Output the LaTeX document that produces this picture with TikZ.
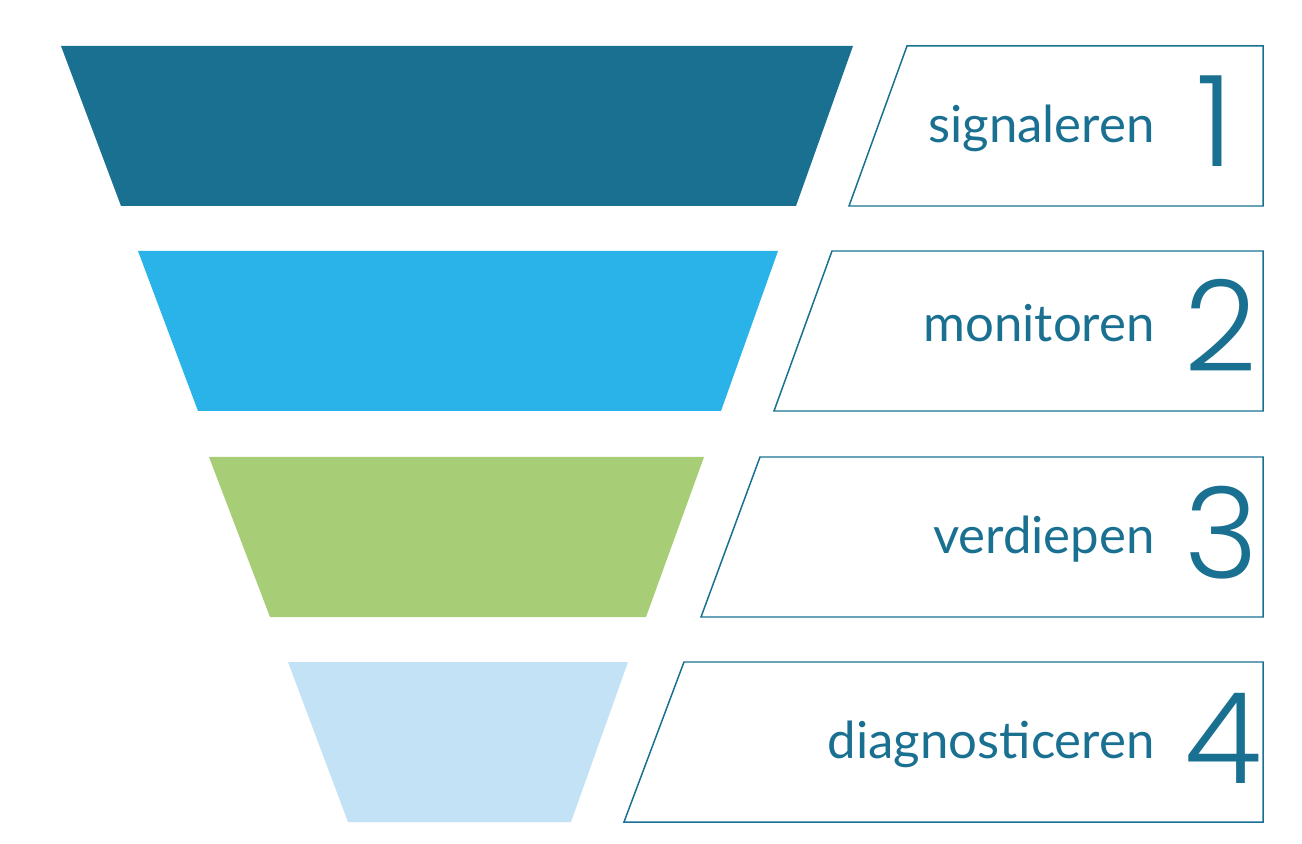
\documentclass[tikz,border=0pt]{standalone}
\usepackage{fontspec}
\setmainfont{Lato}
\newfontfamily\numfont{Poppins Light}
\definecolor{teal1}{RGB}{26,112,144}
\definecolor{sky1}{RGB}{41,179,232}
\definecolor{green1}{RGB}{167,205,118}
\definecolor{pale1}{RGB}{195,226,246}
\tikzset{frame/.style={draw=teal1,line width=0.85pt,line join=miter},
lbl/.style={anchor=base east,inner sep=0pt,text=teal1,font=\fontsize{29}{31}\selectfont},
num/.style={anchor=base west,inner sep=0pt,text=teal1,font=\numfont\fontsize{72}{74}\selectfont}}

\begin{document}
\begin{tikzpicture}[x=0.02cm,y=-0.02cm]
\useasboundingbox (0,0) rectangle (1302,844);
% funnel
\fill[teal1] (61,46)--(853,46)--(796,206)--(121,206)--cycle;
\fill[sky1] (138,251)--(778,251)--(721,411)--(198,411)--cycle;
\fill[green1] (209,457)--(704,457)--(646,617)--(270,617)--cycle;
\fill[pale1] (288,662)--(628,662)--(571,822)--(348,822)--cycle;
% label boxes
\draw[frame] (907,46)--(1263,46)--(1263,206)--(849,206)--cycle;
\draw[frame] (832,251)--(1263,251)--(1263,411)--(774,411)--cycle;
\draw[frame] (760,457)--(1263,457)--(1263,617)--(701,617)--cycle;
\draw[frame] (684,662)--(1263,662)--(1263,822)--(624,822)--cycle;
\node[lbl] (l1) at (1155,143) {signaleren};\node[num] (n1) at (1196,167) {1};
\node[lbl] (l2) at (1155,342) {monitoren};\node[num] (n2) at (1184,372) {2};
\node[lbl] (l3) at (1155,553) {verdiepen};\node[num] (n3) at (1184,578) {3};
\node[lbl] (l4) at (1155,758) {diagnosticeren};\node[num] (n4) at (1184,783) {4};
\end{tikzpicture}
\end{document}
